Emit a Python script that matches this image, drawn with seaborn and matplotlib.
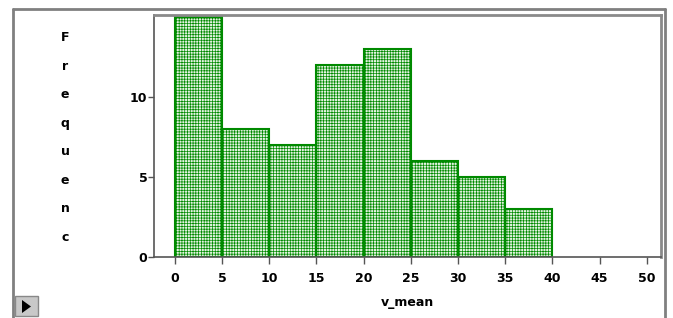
import matplotlib
matplotlib.use('Agg')
import numpy as np
import pandas as pd
import seaborn as sns
from matplotlib import pyplot as plt
from matplotlib.patches import Rectangle, Polygon
from matplotlib.lines import Line2D

# histogram bins (left edges) and counts
bin_left = [0, 5, 10, 15, 20, 25, 30, 35]
counts = [15, 8, 7, 12, 13, 6, 5, 3]
bin_edges = [0, 5, 10, 15, 20, 25, 30, 35, 40]
x_ticks = [0, 5, 10, 15, 20, 25, 30, 35, 40, 45, 50]
y_ticks = [0, 5, 10]

df = pd.DataFrame({'v_mean': np.array(bin_left) + 2.5, 'count': counts})

sns.set_style('white')
plt.rcParams['font.family'] = ['DejaVu Sans']
plt.rcParams['hatch.linewidth'] = 0.5
plt.rcParams['text.color'] = 'black'
plt.rcParams['xtick.color'] = 'black'
plt.rcParams['ytick.color'] = 'black'
plt.rcParams['axes.labelcolor'] = 'black'

W, H = 673, 318
fig = plt.figure(figsize=(W / 100, H / 100), dpi=100)
ax = fig.add_axes([154.3 / W, 1 - 256.7 / H, (661 - 154.3) / W, (256.7 - 15) / H])

sns.histplot(data=df, x='v_mean', weights='count', bins=bin_edges, ax=ax,
             color='#e4f3e1', edgecolor='#008a00', linewidth=1.5, alpha=1)
for p in ax.patches:
    p.set_hatch('++++++')

ax.set_xlim(-2.16, 51.5)
ax.set_ylim(0, 15.1)
ax.set_xticks(x_ticks)
ax.set_yticks(y_ticks)
ax.set_xticklabels([str(t) for t in x_ticks], fontweight='bold', fontsize=9)
ax.set_yticklabels([str(t) for t in y_ticks], fontweight='bold', fontsize=9)
ax.tick_params(axis='x', direction='out', length=5, width=1, color='#555555', pad=6, bottom=True)
ax.tick_params(axis='y', direction='out', length=4, width=1, color='#555555', pad=1, left=True)
ax.set_xlabel('v_mean', fontweight='bold', fontsize=9, labelpad=8)
ax.set_ylabel('')
for side in ['left', 'bottom']:
    ax.spines[side].set_color('#555555')
    ax.spines[side].set_linewidth(1.2)
for side in ['top', 'right']:
    ax.spines[side].set_color('#8a8a8a')
    ax.spines[side].set_linewidth(2)

# stacked vertical y label
fig.text(65 / W, 1 - 137.5 / H, '\n'.join('Frequenc'), ha='center', va='center',
         fontweight='bold', fontsize=9, linespacing=2.56)

# outer window frame
frame = dict(color='#808080', linewidth=2, transform=fig.transFigure)
fig.add_artist(Line2D([13 / W, 13 / W], [0, 1 - 9 / H], **frame))
fig.add_artist(Line2D([13 / W, 665 / W], [1 - 9 / H, 1 - 9 / H], **frame))
fig.add_artist(Line2D([665 / W, 665 / W], [0, 1 - 9 / H], **frame))

# small play button bottom-left
fig.add_artist(Rectangle((15 / W, 1 - 316 / H), 23 / W, 20 / H, transform=fig.transFigure,
                         facecolor='#c8c8c8', edgecolor='#888888', linewidth=1))
fig.add_artist(Polygon([[22 / W, 1 - 313 / H], [22 / W, 1 - 300 / H], [31 / W, 1 - 306.5 / H]],
                       closed=True, transform=fig.transFigure, facecolor='black', edgecolor='none'))

fig.savefig('out.png', dpi=100)
